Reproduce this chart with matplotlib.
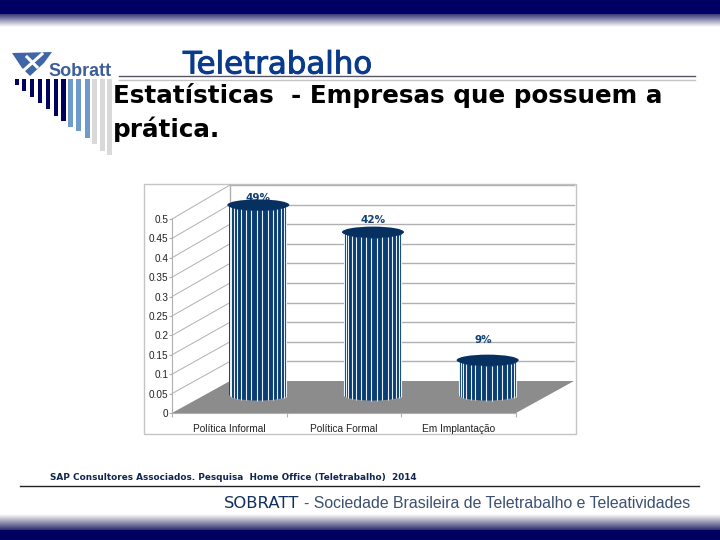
import numpy as np
import matplotlib
matplotlib.use('Agg')
import matplotlib.pyplot as plt
import matplotlib.patheffects as pe
from matplotlib.colors import LinearSegmentedColormap
from matplotlib.patches import Ellipse, Polygon, Rectangle

categories = ['Política Informal', 'Política Formal', 'Em Implantação']
values = [0.49, 0.42, 0.09]
value_labels = ['49%', '42%', '9%']
y_ticks = [0, 0.05, 0.1, 0.15, 0.2, 0.25, 0.3, 0.35, 0.4, 0.45, 0.5]
y_tick_labels = ['0', '0.05', '0.1', '0.15', '0.2', '0.25', '0.3', '0.35', '0.4', '0.45', '0.5']

NAVY = '#00005f'
BAR_DARK = '#0a3d72'
GRID = '#b0b0b0'
W, H = 720, 540

fig = plt.figure(figsize=(7.2, 5.4), dpi=100, facecolor='white')

# page layer, works in pixel coords of the slide
bg = fig.add_axes([0, 0, 1, 1])
bg.set_xlim(0, W)
bg.set_ylim(H, 0)
bg.axis('off')


def band(y0, y1, c0, c1):
    cmap = LinearSegmentedColormap.from_list('b', [c0, c1])
    grad = np.linspace(0, 1, 64).reshape(-1, 1)
    bg.imshow(grad, cmap=cmap, extent=[0, W, y1, y0], aspect='auto', zorder=1)


band(0, 14, NAVY, '#00006a')
band(14, 27, '#3a3a78', '#ffffff')
band(514, 530, '#ffffff', '#30306e')
band(530, 540, NAVY, NAVY)
bg.set_xlim(0, W)
bg.set_ylim(H, 0)


def draw_logo():
    bars = [(15, 85, NAVY), (22, 91, NAVY), (30, 97, NAVY), (38, 103, NAVY),
            (46, 109, NAVY), (54, 116, NAVY), (61, 121, NAVY),
            (68, 127, '#6f9bcb'), (76, 131, '#6f9bcb'), (85, 138, '#6f9bcb'),
            (92, 144, '#d9d9d9'), (100, 151, '#d9d9d9'), (107, 155, '#d9d9d9')]
    for x, bottom, col in bars:
        w = 4 if x < 60 else 5
        bg.add_patch(Rectangle((x, 79), w, bottom - 79, color=col, lw=0, zorder=2))
    bg.add_patch(Polygon([(12, 53), (52, 52), (44, 63), (30, 76), (22, 68)],
                         color='#3f66a8', lw=0, zorder=2))
    bg.plot([24, 42], [70, 54], color='white', lw=2.2, zorder=3)
    bg.plot([27, 37], [57, 67], color='white', lw=2.2, zorder=3)
    bg.text(48, 71, 'Sobratt', color='#3d5f96', fontsize=13, fontweight='bold',
            family='Liberation Sans', va='center', ha='left', zorder=3)


draw_logo()

# header
bg.plot([119, 695], [76, 76], color='#555566', lw=1, zorder=2)
bg.plot([119, 695], [80, 80], color='#c4c4c4', lw=1, zorder=2)
bg.text(183, 65, 'Teletrabalho', color='#0a3a8c', fontsize=22.2, va='center', ha='left', zorder=3,
        path_effects=[pe.withStroke(linewidth=0.7, foreground='#0a3a8c')])
bg.text(113, 96, 'Estatísticas  - Empresas que possuem a', color='black', fontsize=17.7,
        fontweight='bold', va='center', ha='left', zorder=3)
bg.text(113, 129, 'prática.', color='black', fontsize=17.7, fontweight='bold',
        va='center', ha='left', zorder=3)

# chart frame
bg.add_patch(Rectangle((144, 184), 432, 250, fc='white', ec='#c4c4c4', lw=1, zorder=1.5))

# footer
bg.text(50, 478, 'SAP Consultores Associados. Pesquisa  Home Office (Teletrabalho)  2014',
        color='#10264f', fontsize=6.4, fontweight='bold', va='center', ha='left', zorder=3)
bg.plot([20, 699], [486, 486], color='#222222', lw=1, zorder=2)
bg.text(224, 504, 'SOBRATT', color='#12305f', fontsize=11.8, va='center', ha='left', zorder=3)
bg.text(304, 504, '- Sociedade Brasileira de Teletrabalho e Teleatividades', color='#3c5070',
        fontsize=11.4, va='center', ha='left', family='Liberation Sans', zorder=3)

# chart: front plane of the 3d box, 172..516 px wide, 413..219 px high
ax = fig.add_axes([172 / W, 1 - 413 / H, 344 / W, 194 / H], zorder=2)
ax.patch.set_alpha(0)
ax.set_xlim(0, 3)
ax.set_ylim(0, 0.5)
for side in ['top', 'right']:
    ax.spines[side].set_visible(False)
for side in ['left', 'bottom']:
    ax.spines[side].set_color(GRID)
    ax.spines[side].set_linewidth(0.8)

dx = 58 / 344 * 3
dy = 32 / 388
wall_lift = 2 / 388

ax.add_patch(Polygon([(0, 0), (3, 0), (3 + dx, dy), (dx, dy)], fc='#8c8c8c', ec='none',
                     clip_on=False, zorder=1))
for t in y_ticks[1:]:
    ax.plot([dx, 3 + dx], [t + dy + wall_lift * t * 2, t + dy + wall_lift * t * 2], color=GRID,
            lw=1.0, clip_on=False, zorder=0.5)
    ax.plot([0, dx], [t, t + dy + wall_lift * t * 2], color=GRID, lw=0.7, clip_on=False, zorder=0.5)
ax.plot([dx, dx], [dy, 0.5 + dy + wall_lift], color=GRID, lw=1.0, clip_on=False, zorder=0.5)

centers = np.arange(len(values)) + 0.5 + dx / 2
bar_w = 58 / 344 * 3
stripe_angles = np.radians(np.arange(-80, 81, 11))
ell_h = 11 / 388
base = dy / 2 + 0.005

for c, v in zip(centers, values):
    ax.add_patch(Ellipse((c, base), bar_w, ell_h, fc=BAR_DARK, ec='none', clip_on=False, zorder=2))
    ax.bar(c, v, bottom=base, width=bar_w, color=BAR_DARK, clip_on=False, zorder=2.1)
    xs = c + bar_w / 2 * np.sin(stripe_angles)
    # stripes follow the front of the cylinder, so they dip a bit towards the middle
    sag = ell_h / 2 * np.cos(stripe_angles)
    ax.vlines(xs, base - sag, base + v - sag, color='#e8f0f8', lw=0.8, clip_on=False, zorder=2.2)
    ax.add_patch(Ellipse((c, base + v), bar_w * 1.07, ell_h, fc='#06305f', ec='none',
                         clip_on=False, zorder=2.3))

label_x = [centers[0], centers[1], centers[2] - 0.04]
label_y = [values[0] + base + 0.018, values[1] + base + 0.031, values[2] + base + 0.051]
for x, y, s in zip(label_x, label_y, value_labels):
    ax.text(x, y, s, color='#123f74', fontsize=7.5, fontweight='bold', ha='center', va='center',
            clip_on=False, zorder=2.25)

ax.set_yticks(y_ticks)
ax.set_yticklabels(y_tick_labels, family='Liberation Sans', fontsize=7.2, color='#222222')
ax.set_xticks([0, 1, 2, 3])
ax.set_xticklabels([])
ax.set_xticks(np.arange(3) + 0.5, labels=categories, minor=True, family='Liberation Sans',
              fontsize=7.3, color='#222222')
ax.tick_params(axis='x', which='minor', length=0, pad=8)
ax.tick_params(axis='x', which='major', length=3, color=GRID)
ax.tick_params(axis='y', length=2, color=GRID, pad=0.5)

fig.savefig('out.png', dpi=100)
